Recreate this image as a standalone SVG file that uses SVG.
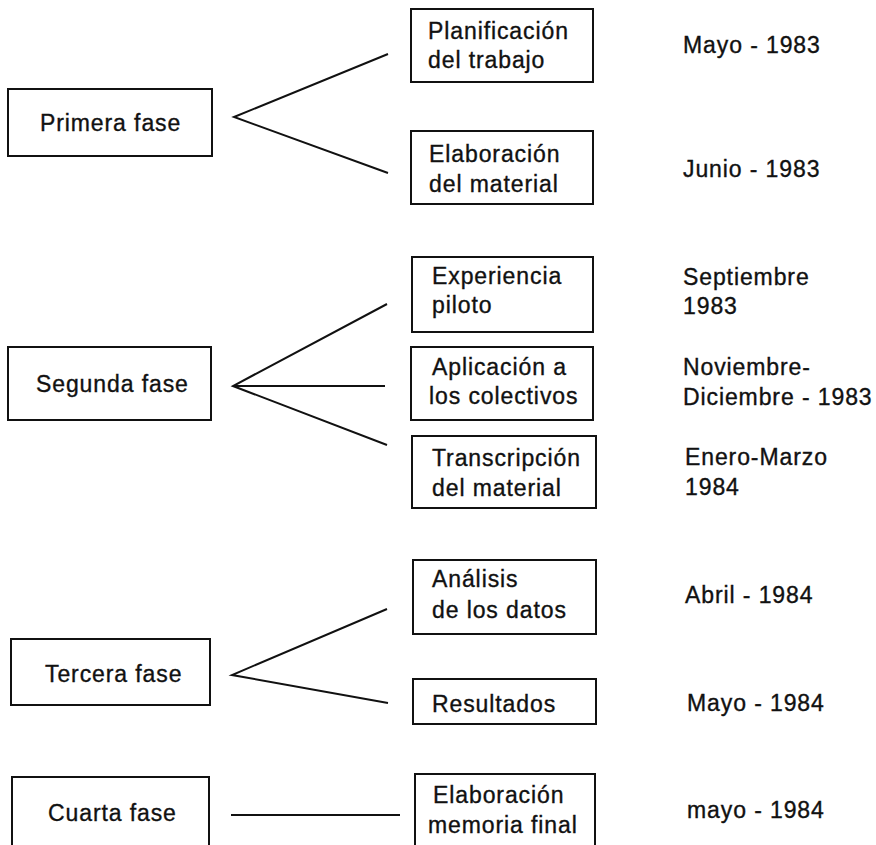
<svg xmlns="http://www.w3.org/2000/svg" width="876" height="845" viewBox="0 0 876 845">
<style>
.box{fill:#fff;stroke:#111;stroke-width:2}
.t{font-family:"Liberation Sans",Arial,sans-serif;font-size:23px;letter-spacing:0.9px;fill:#111;stroke:#111;stroke-width:0.35}
.c{stroke:#111;stroke-width:2;fill:none}
</style>
<rect width="876" height="845" fill="#fff"/>
<g id="connectors">
<polyline class="c" points="388,54 234,117 388,173"/>
<polyline class="c" points="387,304 233,386 387,445"/>
<line class="c" x1="233" y1="386" x2="385" y2="386"/>
<polyline class="c" points="387,609 232,675 388,703"/>
<line class="c" x1="231" y1="815" x2="400" y2="815"/>
</g>
<g id="primera"><rect class="box" x="8" y="89" width="204" height="67"/><text class="t" x="40" y="131">Primera fase</text></g>
<g id="segunda"><rect class="box" x="8" y="347" width="203" height="73"/><text class="t" x="36" y="392">Segunda fase</text></g>
<g id="tercera"><rect class="box" x="11" y="639" width="199" height="66"/><text class="t" x="45" y="682">Tercera fase</text></g>
<g id="cuarta"><rect class="box" x="12" y="777" width="197" height="80"/><text class="t" x="48" y="821">Cuarta fase</text></g>
<g id="planificacion"><rect class="box" x="411" y="9" width="182" height="73"/><text class="t" x="428" y="39">Planificación</text><text class="t" x="428" y="68">del trabajo</text></g>
<g id="elaboracion1"><rect class="box" x="411" y="131" width="182" height="73"/><text class="t" x="429" y="162">Elaboración</text><text class="t" x="429" y="192">del material</text></g>
<g id="experiencia"><rect class="box" x="412" y="257" width="181" height="75"/><text class="t" x="432" y="284">Experiencia</text><text class="t" x="432" y="313">piloto</text></g>
<g id="aplicacion"><rect class="box" x="411" y="347" width="182" height="73"/><text class="t" x="432" y="375">Aplicación a</text><text class="t" x="429" y="404">los colectivos</text></g>
<g id="transcripcion"><rect class="box" x="412" y="436" width="184" height="72"/><text class="t" x="432" y="466">Transcripción</text><text class="t" x="432" y="496">del material</text></g>
<g id="analisis"><rect class="box" x="413" y="560" width="183" height="74"/><text class="t" x="432" y="587">Análisis</text><text class="t" x="432" y="618">de los datos</text></g>
<g id="resultados"><rect class="box" x="413" y="679" width="183" height="45"/><text class="t" x="432" y="712">Resultados</text></g>
<g id="memoria"><rect class="box" x="415" y="774" width="180" height="80"/><text class="t" x="433" y="803">Elaboración</text><text class="t" x="428" y="833">memoria final</text></g>
<g id="dates">
<text class="t" x="683" y="53">Mayo - 1983</text>
<text class="t" x="683" y="177">Junio - 1983</text>
<text class="t" x="683" y="285">Septiembre</text>
<text class="t" x="683" y="314">1983</text>
<text class="t" x="683" y="375">Noviembre-</text>
<text class="t" x="683" y="405">Diciembre - 1983</text>
<text class="t" x="685" y="465">Enero-Marzo</text>
<text class="t" x="685" y="495">1984</text>
<text class="t" x="685" y="603">Abril - 1984</text>
<text class="t" x="687" y="711">Mayo - 1984</text>
<text class="t" x="687" y="818">mayo - 1984</text>
</g>
</svg>
